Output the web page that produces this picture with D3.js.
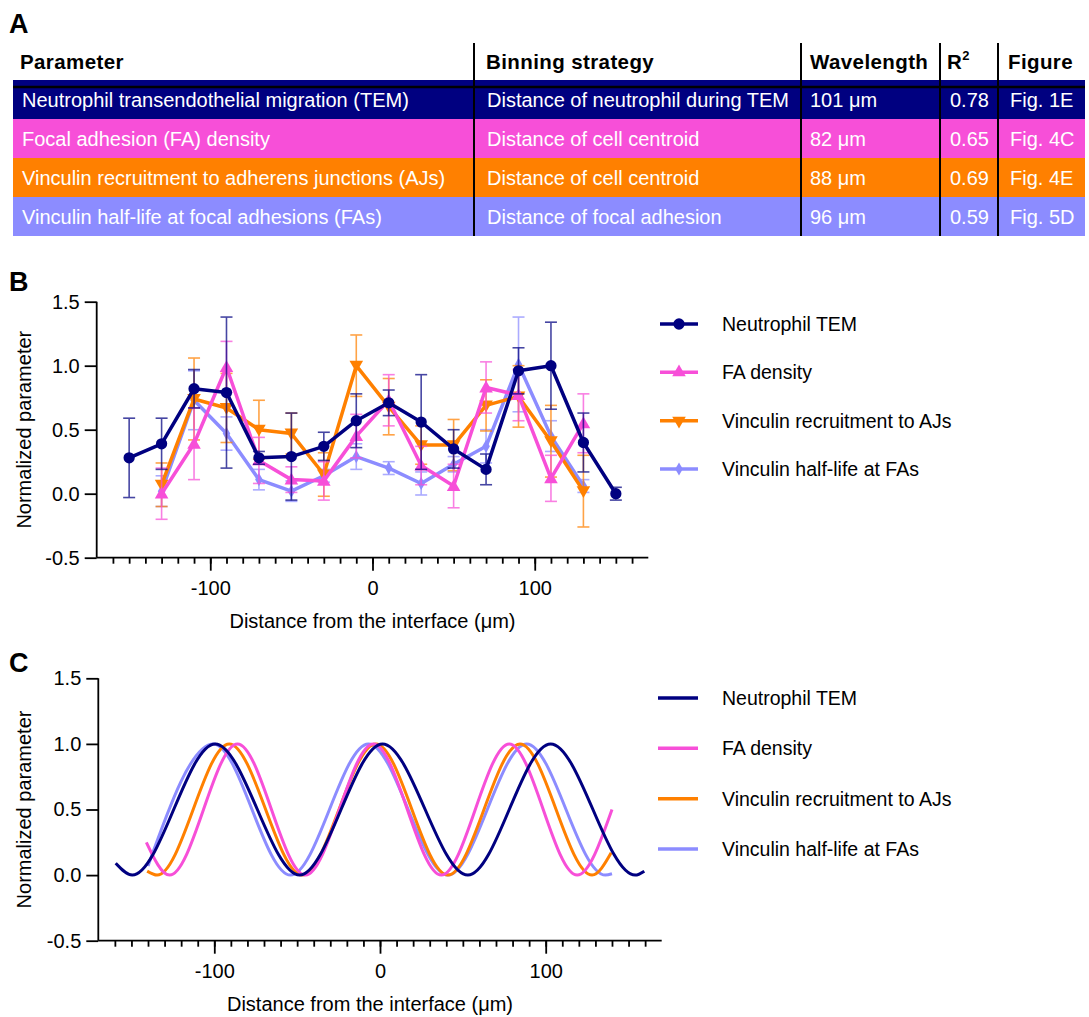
<!DOCTYPE html>
<html>
<head>
<meta charset="utf-8">
<script src="https://cdn.jsdelivr.net/npm/d3@7"></script>
<style>
  body { margin: 0; background: #fff; }
  svg { display: block; font-family: "Liberation Sans", Arial, sans-serif; }
</style>
</head>
<body>
<svg id="fig" width="1089" height="1017"></svg>
<script>
// ---- data ----
var seriesNames = ["Neutrophil TEM", "FA density", "Vinculin recruitment to AJs", "Vinculin half-life at FAs"];
var seriesColors = ["#000080", "#F74FD8", "#FF8000", "#8C8CFF"];

// table (panel A)
var tableHeaders = ["Parameter", "Binning strategy", "Wavelength", "R", "Figure"];
var parameters = ["Neutrophil transendothelial migration (TEM)", "Focal adhesion (FA) density",
  "Vinculin recruitment to adherens junctions (AJs)", "Vinculin half-life at focal adhesions (FAs)"];
var binning = ["Distance of neutrophil during TEM", "Distance of cell centroid",
  "Distance of cell centroid", "Distance of focal adhesion"];
var wavelengths = ["101 \u03bcm", "82 \u03bcm", "88 \u03bcm", "96 \u03bcm"];
var rSquared = ["0.78", "0.65", "0.69", "0.59"];
var figures = ["Fig. 1E", "Fig. 4C", "Fig. 4E", "Fig. 5D"];

// binned data (panel B)
var bins = [-150, -130, -110, -90, -70, -50, -30, -10, 10, 30, 50, 70, 90, 110, 130, 150];
var temMean = [0.28, 0.39, 0.82, 0.79, 0.28, 0.29, 0.37, 0.57, 0.71, 0.56, 0.35, 0.19, 0.96, 1.00, 0.40, 0.00];
var temSem  = [0.31, 0.20, 0.15, 0.59, 0.05, 0.34, 0.11, 0.21, 0.10, 0.37, 0.15, 0.12, 0.18, 0.34, 0.23, 0.05];
var faMean  = [null, 0.00, 0.39, 0.99, 0.26, 0.11, 0.10, 0.45, 0.73, 0.22, 0.06, 0.83, 0.77, 0.12, 0.55, null];
var faSem   = [null, 0.20, 0.28, 0.20, 0.18, 0.10, 0.15, 0.17, 0.20, 0.15, 0.17, 0.20, 0.20, 0.18, 0.23, null];
var ajMean  = [null, 0.07, 0.74, 0.67, 0.50, 0.47, 0.15, 1.00, 0.68, 0.38, 0.38, 0.69, 0.76, 0.41, 0.02, null];
var ajSem   = [null, 0.17, 0.32, 0.27, 0.23, 0.16, 0.17, 0.24, 0.22, 0.15, 0.20, 0.20, 0.24, 0.28, 0.28, null];
var hlMean  = [null, 0.02, 0.73, 0.47, 0.11, 0.02, 0.14, 0.29, 0.20, 0.08, 0.23, 0.37, 1.01, 0.45, 0.06, null];
var hlSem   = [null, 0.12, 0.23, 0.13, 0.08, 0.08, 0.05, 0.10, 0.05, 0.09, 0.06, 0.13, 0.37, 0.12, 0.05, null];

// fitted curves (panel C): end points, peaks and troughs
var temFitX = [-159.5, -149.5, -99.5, -48.5, 1.5, 53, 103, 154, 159.5];
var temFitY = [0.09, 0, 1, 0, 1, 0, 1, 0, 0.03];
var faFitX  = [-141, -127, -86, -45, -4, 37, 78, 119, 140];
var faFitY  = [0.25, 0, 1, 0, 1, 0, 1, 0, 0.5];
var ajFitX  = [-140.5, -134.5, -91, -47, -2.5, 41, 84.5, 128, 139.5];
var ajFitY  = [0.03, 0, 1, 0, 1, 0, 1, 0, 0.17];
var hlFitX  = [-140, -100.5, -54, -7, 41, 88.5, 136, 140];
var hlFitY  = [0.07, 1, 0, 1, 0, 1, 0, 0.01];

var yTicks = [-0.5, 0, 0.5, 1.0, 1.5];
var xMajor = [-100, 0, 100];

var svg = d3.select("#fig");

// ---- panel A: table ----
svg.append("text").attr("x", 9).attr("y", 33).text("A")
  .attr("font-size", "27px").attr("font-weight", "bold");

var tableLeft = 13, tableRight = 1085;
var colText = [22, 487, 810, 950, 1010];
var colHead = [20, 486, 810, 947, 1008];
var colLines = [474, 801, 940, 998];

var rowY = d3.scaleBand().domain(d3.range(parameters.length)).range([80, 236]);

svg.selectAll(".row").data(parameters).enter().append("rect")
  .attr("x", tableLeft).attr("width", tableRight - tableLeft)
  .attr("y", (d, i) => rowY(i)).attr("height", rowY.bandwidth())
  .attr("fill", (d, i) => seriesColors[i]);

svg.append("line").attr("x1", tableLeft).attr("x2", tableRight)
  .attr("y1", 87).attr("y2", 87).attr("stroke", "#000").attr("stroke-width", 2.5);

colLines.forEach(function (x) {
  svg.append("line").attr("x1", x).attr("x2", x).attr("y1", 43).attr("y2", 236)
    .attr("stroke", "#000").attr("stroke-width", 2);
});

var head = svg.selectAll(".head").data(tableHeaders).enter().append("text")
  .attr("x", (d, i) => colHead[i]).attr("y", 69)
  .attr("font-size", "20.5px").attr("font-weight", "bold").attr("letter-spacing", "0.4px")
  .text(d => d);
head.filter((d, i) => i === 3).append("tspan").attr("dy", -9).attr("font-size", "13px").text("2");

var columns = [parameters, binning, wavelengths, rSquared, figures];
columns.forEach(function (col, c) {
  svg.selectAll(".c" + c).data(col).enter().append("text")
    .attr("x", colText[c])
    .attr("y", (d, i) => rowY(i) + rowY.bandwidth() / 2 + 7)
    .attr("font-size", "20px").attr("fill", "#fff")
    .text(d => d);
});

// ---- shared axis drawing ----
function drawAxes(x, y, titleX, titleY) {
  var x0 = x.range()[0], x1 = x.range()[1];
  var yb = y.range()[0];

  var xAxis = svg.append("g").attr("transform", "translate(0," + yb + ")");
  xAxis.call(d3.axisBottom(x).tickValues(d3.range(-160, 161, 10)).tickSize(6).tickFormat(""))
    .call(g => g.select(".domain").remove());
  xAxis.append("g").call(d3.axisBottom(x).tickValues(xMajor).tickSize(13).tickPadding(10)
      .tickFormat(d3.format("d")))
    .call(g => g.select(".domain").remove());
  xAxis.append("line").attr("x1", x0).attr("x2", x1).attr("stroke", "#000").attr("stroke-width", 2);
  xAxis.selectAll("line").attr("stroke-width", 1.8);
  xAxis.selectAll("text").attr("font-size", "20px").attr("font-family", "Liberation Sans, Arial, sans-serif")
    .text(function () { return this.textContent.replace("\u2212", "-"); });

  var yAxis = svg.append("g").attr("transform", "translate(" + x0 + ",0)");
  yAxis.call(d3.axisLeft(y).tickValues(yTicks).tickSize(12).tickPadding(5).tickFormat(d3.format(".1f")))
    .call(g => g.select(".domain").remove());
  yAxis.append("line").attr("y1", y.range()[1]).attr("y2", yb).attr("stroke", "#000").attr("stroke-width", 2);
  yAxis.selectAll("line").attr("stroke-width", 1.8);
  yAxis.selectAll("text").attr("font-size", "20px").attr("font-family", "Liberation Sans, Arial, sans-serif")
    .text(function () { return this.textContent.replace("\u2212", "-"); });

  svg.append("text").attr("x", titleX).attr("y", titleY)
    .attr("text-anchor", "middle").attr("font-size", "20px")
    .text("Distance from the interface (\u03bcm)");
  var yc = (y.range()[0] + y.range()[1]) / 2;
  svg.append("text").attr("transform", "translate(31," + yc + ") rotate(-90)")
    .attr("text-anchor", "middle").attr("font-size", "20px")
    .text("Normalized parameter");
}

// ---- panel B ----
svg.append("text").attr("x", 9).attr("y", 291).text("B")
  .attr("font-size", "27px").attr("font-weight", "bold");

var xB = d3.scaleLinear().domain([-170, 170]).range([96.7, 648.3]);
var yB = d3.scaleLinear().domain([-0.5, 1.5]).range([557.7, 301.7]);
drawAxes(xB, yB, 372.5, 628);

var symbols = [
  d3.symbol().type(d3.symbolCircle).size(100),
  d3.symbol().type(d3.symbolTriangle).size(80),
  d3.symbol().type(d3.symbolTriangle).size(80),
  d3.symbol().type(d3.symbolDiamond).size(50)
];
var symRotate = [0, 0, 180, 0];
var means = [temMean, faMean, ajMean, hlMean];
var sems = [temSem, faSem, ajSem, hlSem];

var lineB = d3.line().defined(d => d.m !== null).x(d => xB(d.x)).y(d => yB(d.m));

[3, 2, 1, 0].forEach(function (s) {
  var pts = bins.map((b, i) => ({ x: b, m: means[s][i], e: sems[s][i] })).filter(d => d.m !== null);
  var g = svg.append("g");
  var eb = g.selectAll(".eb").data(pts).enter().append("g")
    .attr("stroke", seriesColors[s]).attr("stroke-width", 1.6).attr("opacity", 0.72);
  eb.append("line").attr("x1", d => xB(d.x)).attr("x2", d => xB(d.x))
    .attr("y1", d => yB(d.m - d.e)).attr("y2", d => yB(d.m + d.e));
  eb.append("line").attr("x1", d => xB(d.x) - 6).attr("x2", d => xB(d.x) + 6)
    .attr("y1", d => yB(d.m + d.e)).attr("y2", d => yB(d.m + d.e));
  eb.append("line").attr("x1", d => xB(d.x) - 6).attr("x2", d => xB(d.x) + 6)
    .attr("y1", d => yB(d.m - d.e)).attr("y2", d => yB(d.m - d.e));
  g.append("path").datum(pts).attr("d", lineB).attr("fill", "none")
    .attr("stroke", seriesColors[s]).attr("stroke-width", 3.5).attr("stroke-linejoin", "round");
  g.selectAll(".pt").data(pts).enter().append("path")
    .attr("d", symbols[s])
    .attr("transform", d => "translate(" + xB(d.x) + "," + (yB(d.m) + (s === 2 ? -1 : s === 1 ? 1 : 0)) + ") rotate(" + symRotate[s] + ")")
    .attr("fill", seriesColors[s]);
});

// legend B
var legB = d3.scalePoint().domain(seriesNames).range([324, 469]);
seriesNames.forEach(function (name, s) {
  var ly = legB(name);
  svg.append("line").attr("x1", 660).attr("x2", 698).attr("y1", ly).attr("y2", ly)
    .attr("stroke", seriesColors[s]).attr("stroke-width", 3.5);
  svg.append("path").attr("d", symbols[s])
    .attr("transform", "translate(679," + ly + ") rotate(" + symRotate[s] + ")")
    .attr("fill", seriesColors[s]);
  svg.append("text").attr("x", 722).attr("y", ly + 7).attr("font-size", "19.5px").text(name);
});

// ---- panel C ----
svg.append("text").attr("x", 9).attr("y", 672).text("C")
  .attr("font-size", "27px").attr("font-weight", "bold");

var xC = d3.scaleLinear().domain([-170, 170]).range([98.3, 661.7]);
var yC = d3.scaleLinear().domain([-0.5, 1.5]).range([940.7, 678.3]);
drawAxes(xC, yC, 370, 1011);

var fitX = [temFitX, faFitX, ajFitX, hlFitX];
var fitY = [temFitY, faFitY, ajFitY, hlFitY];
var lineC = d3.line().curve(d3.curveMonotoneX).x(d => xC(d[0])).y(d => yC(d[1]));

[3, 2, 1, 0].forEach(function (s) {
  var pts = fitX[s].map((v, i) => [v, fitY[s][i]]);
  svg.append("path").datum(pts).attr("d", lineC).attr("fill", "none")
    .attr("stroke", seriesColors[s]).attr("stroke-width", 3);
});

var legC = d3.scalePoint().domain(seriesNames).range([698, 849]);
seriesNames.forEach(function (name, s) {
  var ly = legC(name);
  svg.append("line").attr("x1", 658).attr("x2", 698).attr("y1", ly).attr("y2", ly)
    .attr("stroke", seriesColors[s]).attr("stroke-width", 3.5);
  svg.append("text").attr("x", 722).attr("y", ly + 7).attr("font-size", "19.5px").text(name);
});
</script>
</body>
</html>
